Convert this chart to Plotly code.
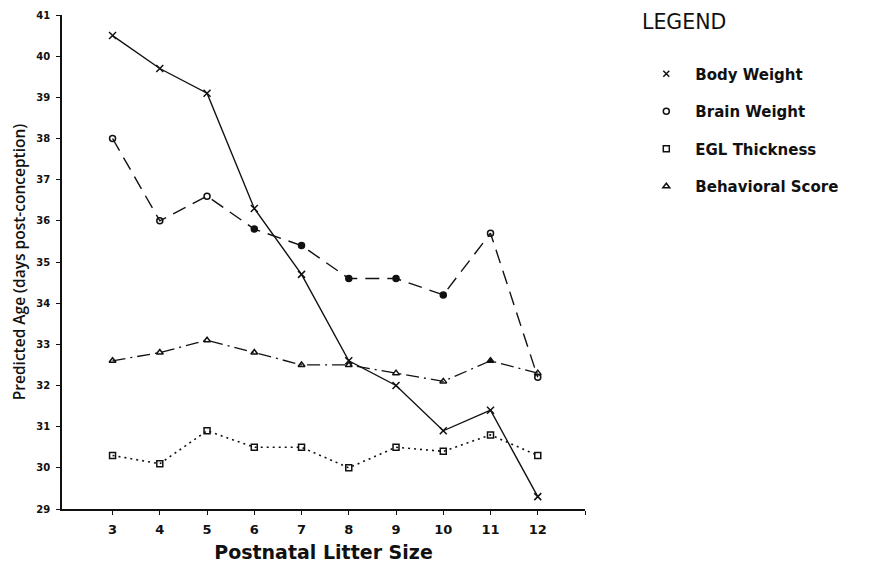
import plotly.graph_objects as go

litter_size = [3, 4, 5, 6, 7, 8, 9, 10, 11, 12]
body_weight = [40.5, 39.7, 39.1, 36.3, 34.7, 32.6, 32.0, 30.9, 31.4, 29.3]
brain_weight = [38.0, 36.0, 36.6, 35.8, 35.4, 34.6, 34.6, 34.2, 35.7, 32.2]
egl_thickness = [30.3, 30.1, 30.9, 30.5, 30.5, 30.0, 30.5, 30.4, 30.8, 30.3]
behavioral_score = [32.6, 32.8, 33.1, 32.8, 32.5, 32.5, 32.3, 32.1, 32.6, 32.3]

series_names = ["Body Weight", "Brain Weight", "EGL Thickness", "Behavioral Score"]
x_tick_vals = [3, 4, 5, 6, 7, 8, 9, 10, 11, 12, 13]
x_tick_text = ["3", "4", "5", "6", "7", "8", "9", "10", "11", "12", ""]
y_tick_vals = list(range(29, 42))

BOLD = "DejaVu Sans"
ink = "#111111"

fig = go.Figure()

styles = [
    dict(y=body_weight, dash="solid", symbol="x-thin-open", size=7, lw=1.4),
    dict(y=brain_weight, dash="14px,8px",
         symbol=["circle-open", "circle-open", "circle-open", "circle", "circle",
                 "circle", "circle", "circle", "circle-open", "circle-open"],
         size=6, lw=1.4),
    dict(y=egl_thickness, dash="2px,4px", symbol="square-open", size=6, lw=1.6),
    dict(y=behavioral_score, dash="13px,5px,2px,5px",
         symbol=["triangle-up-open"] * 8 + ["triangle-up", "triangle-up-open"],
         size=6, lw=1.3),
]
legend_symbols = ["x-thin-open", "circle-open", "square-open", "triangle-up-open"]

for name, st in zip(series_names, styles):
    fig.add_trace(go.Scatter(
        x=litter_size, y=st["y"], mode="lines+markers", name=name,
        showlegend=False,
        line=dict(color=ink, width=st["lw"], dash=st["dash"]),
        marker=dict(symbol=st["symbol"], size=st["size"], color=ink,
                    line=dict(color=ink, width=1.5)),
    ))

for i, (name, sym) in enumerate(zip(series_names, legend_symbols)):
    fig.add_trace(go.Scatter(
        x=[None], y=[None], mode="markers", name=name, legendgroup=f"g{i}",
        marker=dict(symbol=sym, size=6, color=ink, line=dict(color=ink, width=1.5)),
    ))

axis_common = dict(showgrid=False, zeroline=False, showline=True,
                   linecolor=ink, linewidth=1.6, tickcolor=ink, tickwidth=1.4)

fig.update_layout(
    width=875, height=561,
    margin=dict(l=54, r=298, t=7, b=60, autoexpand=False),
    paper_bgcolor="white", plot_bgcolor="white",
    xaxis=dict(range=[1.93, 13.0], tickvals=x_tick_vals, ticktext=x_tick_text,
               ticks="outside", ticklen=4, ticklabelstandoff=4,
               tickfont=dict(family=BOLD, size=13, color=ink, weight="bold"),
               title=dict(text="Postnatal Litter Size", standoff=9,
                          font=dict(family=BOLD, size=19, color=ink, weight="bold")),
               **axis_common),
    yaxis=dict(range=[29, 41], tickvals=y_tick_vals, ticks="outside", ticklen=4,
               ticklabelstandoff=4,
               tickfont=dict(family=BOLD, size=10, color=ink, weight="bold"),
               title=dict(text="Predicted Age (days post-conception)", standoff=8,
                          font=dict(family="Open Sans", size=15.5, color=ink, weight=600)),
               **axis_common),
    xaxis2=dict(range=[1.93, 13.0], overlaying="x", anchor="y", tickvals=x_tick_vals,
                ticks="inside", ticklen=4, showticklabels=False, **axis_common),
    yaxis2=dict(range=[29, 41], overlaying="y", anchor="x", tickvals=y_tick_vals,
                ticks="inside", ticklen=4, showticklabels=False, **axis_common),
    legend=dict(x=1.10, y=0.914, xanchor="left", yanchor="top",
                font=dict(family=BOLD, size=15, color=ink, weight="bold"),
                tracegroupgap=15, itemwidth=48, bgcolor="rgba(0,0,0,0)"),
    annotations=[dict(text="LEGEND", xref="paper", yref="paper", x=1.105, y=0.986,
                      xanchor="left", yanchor="middle", showarrow=False,
                      font=dict(family="DejaVu Sans", size=20.5, color=ink))],
)

fig.write_html("out.html")
